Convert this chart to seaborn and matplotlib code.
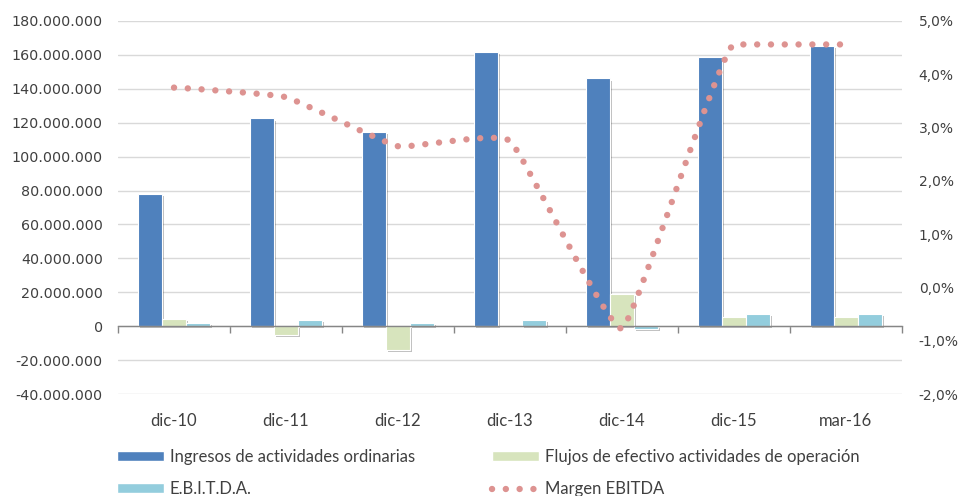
import numpy as np
import pandas as pd
import matplotlib
matplotlib.use("Agg")
import matplotlib.pyplot as plt
import seaborn as sns
from matplotlib.path import Path
from matplotlib.patches import PathPatch, Patch
from matplotlib.lines import Line2D
from matplotlib import patheffects as pe
from matplotlib.ticker import FuncFormatter, MultipleLocator

# ---- data ----
categories = ["dic-10", "dic-11", "dic-12", "dic-13", "dic-14", "dic-15", "mar-16"]
ingresos = [77.8e6, 122.5e6, 114.6e6, 161.6e6, 146.1e6, 158.9e6, 165.2e6]
flujos = [4.5e6, -5.3e6, -13.8e6, 0.4e6, 18.9e6, 5.5e6, 5.5e6]
ebitda = [2.0e6, 3.5e6, 2.0e6, 3.5e6, -1.4e6, 7.1e6, 7.1e6]
margen = [3.75, 3.57, 2.65, 2.75, -0.77, 4.56, 4.56]  # percent

series_names = ["Ingresos de actividades ordinarias",
                "Flujos de efectivo actividades de operación",
                "E.B.I.T.D.A."]
line_name = "Margen EBITDA"
colors = ["#4F81BD", "#D7E4BD", "#93CDDD"]
line_color = "#DD9391"

df = pd.DataFrame({
    "cat": categories * 3,
    "serie": [series_names[0]] * 7 + [series_names[1]] * 7 + [series_names[2]] * 7,
    "value": ingresos + flujos + ebitda,
})

sns.set_theme(style="white")
plt.rcParams["font.family"] = ["DejaVu Sans"]
text_color = "#404040"
narrow = ["Lato", "DejaVu Sans"]

fig = plt.figure(figsize=(9.59, 4.96), dpi=100)
ax = fig.add_axes([118 / 959, 1 - 394 / 496, (902 - 118) / 959, (394 - 21) / 496])

sns.barplot(data=df, x="cat", y="value", hue="serie", hue_order=series_names,
            palette=colors, saturation=1, width=0.64, errorbar=None,
            legend=False, ax=ax, linewidth=0.8, edgecolor="white")
for p in ax.patches:
    p.set_path_effects([pe.SimplePatchShadow(offset=(1.5, -1.5), alpha=0.25, shadow_rgbFace="#000000"),
                        pe.Normal()])

ax.set_xlim(-0.5, 6.5)
ax.set_ylim(-40e6, 180e6)
ax.yaxis.set_major_locator(MultipleLocator(20e6))
ax.yaxis.set_major_formatter(FuncFormatter(lambda v, p: f"{v:,.0f}".replace(",", ".")))
ax.grid(axis="y", color="#D9D9D9", linewidth=1)
ax.set_axisbelow(True)
ax.set_xlabel("")
ax.set_ylabel("")
for s in ["top", "right", "left"]:
    ax.spines[s].set_visible(False)
ax.spines["bottom"].set_position(("data", 0))
ax.spines["bottom"].set_color("#868686")
ax.spines["bottom"].set_linewidth(1)
ax.set_xticks(np.arange(-0.5, 7.0, 1.0))
ax.set_xticklabels([])
ax.tick_params(axis="x", which="major", direction="out", length=5, color="#868686", width=1, bottom=True)
ax.tick_params(axis="y", length=0, pad=11, labelsize=10.3, labelcolor=text_color)

sec = ax.secondary_xaxis(0)
sec.set_xticks(range(len(categories)), labels=categories)
sec.tick_params(length=0, pad=13.5, labelsize=12, labelcolor=text_color)
for lab in sec.get_xticklabels():
    lab.set_family(narrow)
sec.spines["bottom"].set_visible(False)

# ---- secondary axis line ----
ax2 = ax.twinx()
ax2.set_ylim(-2, 5)
ax2.yaxis.set_major_locator(MultipleLocator(1))
ax2.yaxis.set_major_formatter(FuncFormatter(lambda v, p: f"{v:.1f}%".replace(".", ",")))
ax2.tick_params(axis="y", length=0, pad=12, labelsize=10, labelcolor=text_color)
for s in ax2.spines.values():
    s.set_visible(False)
ax2.grid(False)

xs = np.arange(len(margen), dtype=float)
ys = np.array(margen, dtype=float)
n = len(ys)
# lightly smoothed line: short Bezier handles through the data points
handle = 0.11
tang = np.zeros(n)
for i in range(n):
    a = ys[i - 1] if i > 0 else ys[i]
    b = ys[i + 1] if i < n - 1 else ys[i]
    if (i > 0 and ys[i - 1] == ys[i]) or (i < n - 1 and ys[i + 1] == ys[i]):
        tang[i] = 0.0
    else:
        tang[i] = (b - a) / 2.0
verts = [(xs[0], ys[0])]
codes = [Path.MOVETO]
for i in range(n - 1):
    verts += [(xs[i] + handle, ys[i] + tang[i] * handle),
              (xs[i + 1] - handle, ys[i + 1] - tang[i + 1] * handle),
              (xs[i + 1], ys[i + 1])]
    codes += [Path.CURVE4] * 3
patch = PathPatch(Path(verts, codes), facecolor="none", edgecolor=line_color,
                  linewidth=4.6, linestyle=(0, (0.01, 2.15)), capstyle="round",
                  transform=ax2.transData)
ax2.add_patch(patch)

# ---- legend (two columns placed like the reference) ----
common = dict(loc="upper left", frameon=False, borderpad=0, borderaxespad=0,
              handlelength=2.8, handleheight=0.5, handletextpad=0.36,
              labelspacing=0.95, prop={"family": narrow, "size": 12})
h_ing = Patch(facecolor=colors[0], edgecolor="white")
h_flu = Patch(facecolor=colors[1], edgecolor="white")
h_ebi = Patch(facecolor=colors[2], edgecolor="white")
h_mar = Line2D([0], [0], color=line_color, linewidth=4.6, linestyle=(0, (0.01, 2.15)),
               dash_capstyle="round")
leg1 = fig.legend([h_ing, h_ebi], [series_names[0], series_names[2]],
                  bbox_to_anchor=(117 / 959, 1 - 449 / 496), **common)
leg2 = fig.legend([h_flu, h_mar], [series_names[1], line_name],
                  bbox_to_anchor=(492 / 959, 1 - 449 / 496), **common)
for leg in (leg1, leg2):
    for t in leg.get_texts():
        t.set_color(text_color)

fig.savefig("out.png", dpi=100)
